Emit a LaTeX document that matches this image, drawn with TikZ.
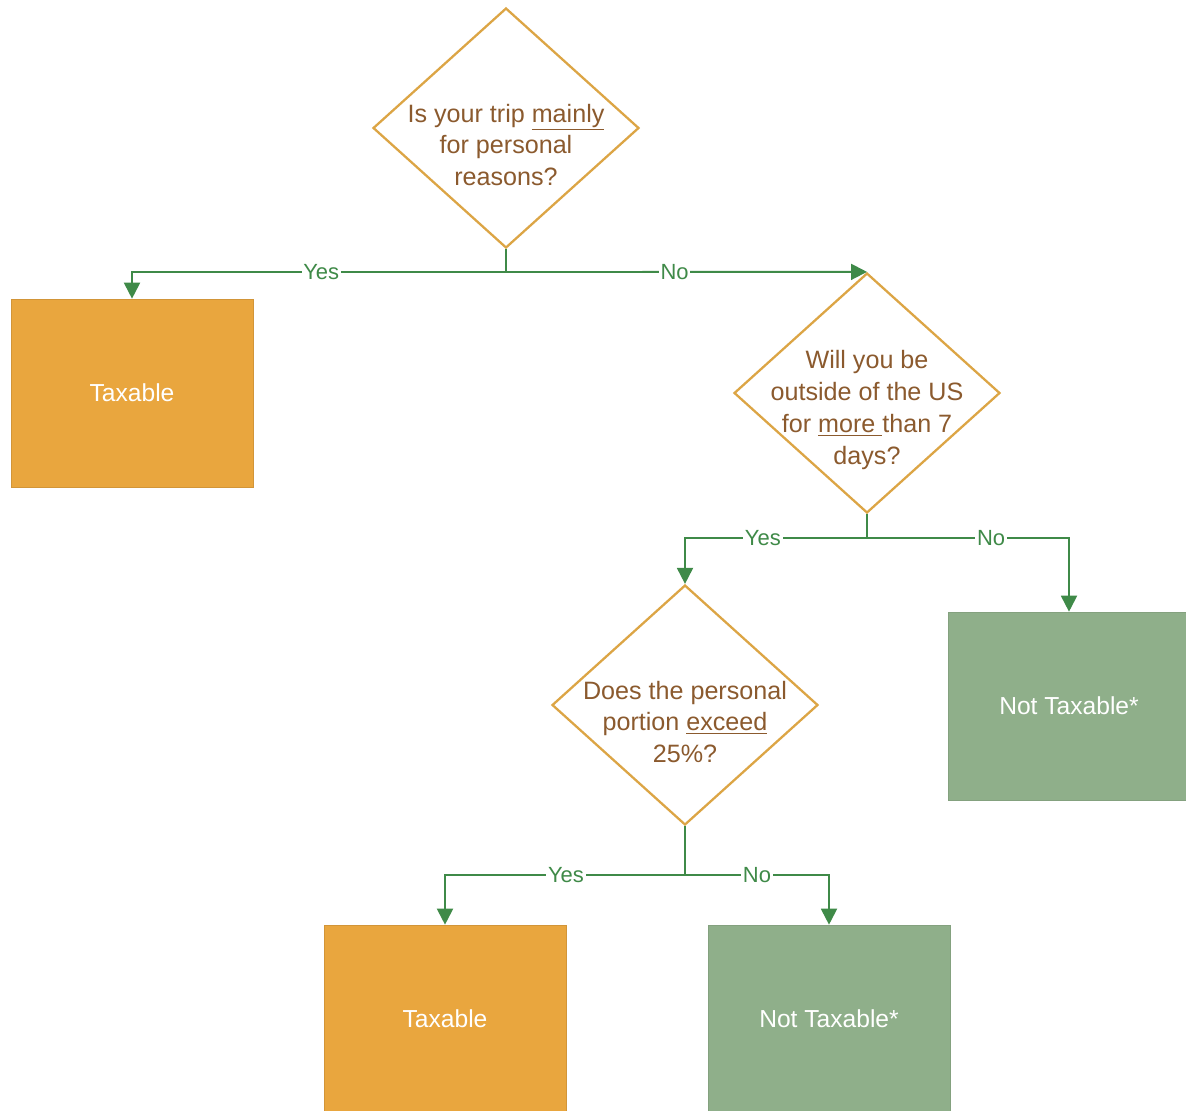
\documentclass[tikz,border=0pt]{standalone}
\usepackage{fontspec}
\setmainfont{Liberation Sans}
\usetikzlibrary{shapes.geometric,arrows.meta}
\definecolor{qedge}{HTML}{DCA545}
\definecolor{qtext}{HTML}{8B5A2E}
\definecolor{flow}{HTML}{3F8A48}
\definecolor{taxfill}{HTML}{E9A63E}
\definecolor{freefill}{HTML}{8FAF8A}
\tikzset{
  question/.style={diamond,draw=qedge,line width=1.3pt,fill=white,
    minimum width=5.32cm,minimum height=4.8cm,inner sep=0pt},
  qlabel/.style={text=qtext,align=center,
    font=\fontsize{14.3}{18.2}\selectfont,yshift=-0.34cm},
  outcome/.style={rectangle,minimum width=4.84cm,minimum height=3.76cm,
    text=white,font=\fontsize{14}{17}\selectfont},
  taxbox/.style={outcome,fill=taxfill,draw=taxfill!90!black},
  freebox/.style={outcome,fill=freefill,draw=freefill!92!black},
  flowline/.style={draw=flow,line width=1.1pt},
  flowarrow/.style={flowline,-{Triangle[width=0.32cm,length=0.32cm]}},
  answer/.style={fill=white,text=flow,inner sep=1pt,
    font=\fontsize{12.5}{14}\selectfont}
}
\begin{document}
\begin{tikzpicture}[x=0.02cm,y=-0.02cm]
  \useasboundingbox (0,0) rectangle (1186,1110);
  \clip (0,0) rectangle (1186,1110);

  % questions
  \node[question,label={[qlabel]center:Is your trip \underline{mainly}\\for personal\\reasons?}] (trip) at (506,128) {};
  \node[question,label={[qlabel]center:Will you be\\outside of the US\\for \underline{more\ }than 7\\days?}] (abroad) at (867,393) {};
  \node[question,label={[qlabel]center:Does the personal\\portion \underline{exceed}\\25\%?}] (share) at (685,705) {};

  % outcomes
  \node[taxbox] (taxA) at (132,393) {Taxable};
  \node[freebox] (freeA) at (1069,706) {Not Taxable*};
  \node[taxbox] (taxB) at (445,1019) {Taxable};
  \node[freebox] (freeB) at (829,1019) {Not Taxable*};

  % branches
  \coordinate (splitA) at (506,272);
  \coordinate (splitB) at (867,538);
  \coordinate (splitC) at (685,875);

  \draw[flowline] (trip.south)--(splitA);
  \draw[flowarrow] (splitA)-|node[answer,pos=.247]{Yes}(taxA.north);
  \draw[flowarrow] (splitA)--node[answer,pos=.467]{No}(abroad.north);

  \draw[flowline] (abroad.south)--(splitB);
  \draw[flowarrow] (splitB)-|node[answer,pos=.286]{Yes}(share.north);
  \draw[flowarrow] (splitB)-|node[answer,pos=.307]{No}(freeA.north);

  \draw[flowline] (share.south)--(splitC);
  \draw[flowarrow] (splitC)-|node[answer,pos=.248]{Yes}(taxB.north);
  \draw[flowarrow] (splitC)-|node[answer,pos=.25]{No}(freeB.north);
\end{tikzpicture}
\end{document}
